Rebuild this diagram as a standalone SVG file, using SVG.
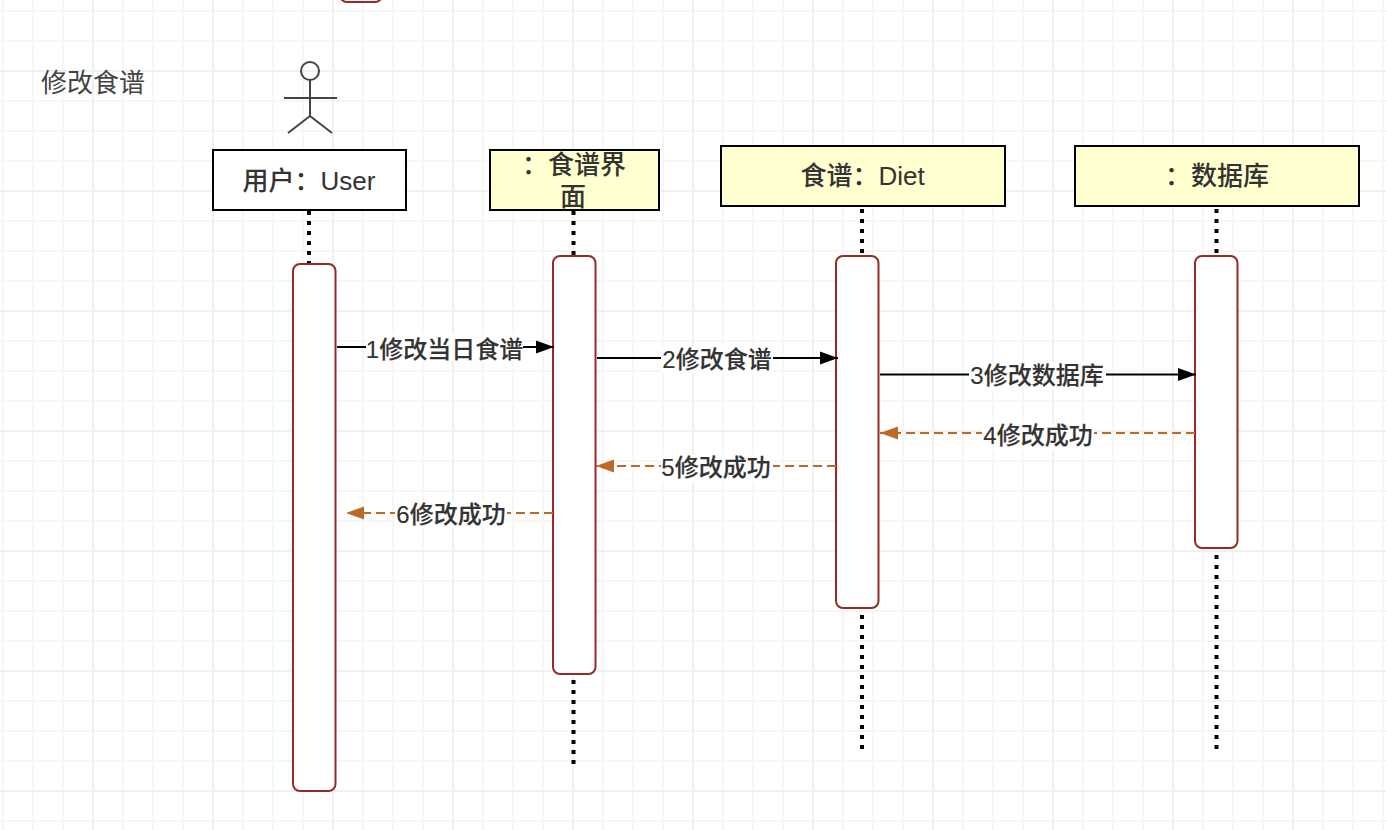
<svg xmlns="http://www.w3.org/2000/svg" width="1386" height="830" viewBox="0 0 1386 830">
<defs>
<path id="gridPath" d="M3 0V830M33 0V830M63 0V830M123 0V830M153 0V830M183 0V830M243 0V830M273 0V830M303 0V830M363 0V830M393 0V830M423 0V830M483 0V830M513 0V830M543 0V830M603 0V830M633 0V830M663 0V830M723 0V830M753 0V830M783 0V830M843 0V830M873 0V830M903 0V830M963 0V830M993 0V830M1023 0V830M1083 0V830M1113 0V830M1143 0V830M1203 0V830M1233 0V830M1263 0V830M1323 0V830M1353 0V830M1383 0V830M0 11H1386M0 41H1386M0 101H1386M0 131H1386M0 161H1386M0 221H1386M0 251H1386M0 281H1386M0 341H1386M0 371H1386M0 401H1386M0 461H1386M0 491H1386M0 521H1386M0 581H1386M0 611H1386M0 641H1386M0 701H1386M0 731H1386M0 761H1386M0 821H1386"/>
<marker id="arrowBlack" markerUnits="userSpaceOnUse" markerWidth="20" markerHeight="16" refX="18" refY="8" orient="auto"><path d="M0 1.500L18 8L0 14.500Z" fill="#000"/></marker>
<marker id="arrowOrange" markerUnits="userSpaceOnUse" markerWidth="20" markerHeight="16" refX="18" refY="8" orient="auto"><path d="M0 1.500L18 8L0 14.500Z" fill="#bd6a26"/></marker>
</defs>
<style>
text{font-family:"Liberation Sans","Noto Sans CJK SC",sans-serif;fill:#333;text-anchor:middle}
.grid{fill:none;stroke:#f6f6f6;stroke-width:2}
.major{fill:none;stroke:#f0f0f0;stroke-width:2}
.life{fill:none;stroke:#000;stroke-width:4;stroke-dasharray:4 6}
.bar{fill:#fff;stroke:#962b25;stroke-width:2}
.head{stroke:#000;stroke-width:2}
.yellow{fill:#ffffcf}
.white{fill:#fff}
.title{font-size:26px;font-weight:500}
.msg{fill:none;stroke:#000;stroke-width:2;marker-end:url(#arrowBlack)}
.ret{fill:none;stroke:#bd6a26;stroke-width:2;stroke-dasharray:9 5;marker-end:url(#arrowOrange)}
.lab{font-size:24px;font-weight:500;stroke:#333;stroke-width:.15}
.labbg{fill:#fff}
.actor{fill:none;stroke:#444;stroke-width:2}
</style>
<rect width="1386" height="830" fill="#fff"/>
<g id="grid">
<use href="#gridPath" class="grid"/>
<path class="major" d="M93 0V830M213 0V830M333 0V830M453 0V830M573 0V830M693 0V830M813 0V830M933 0V830M1053 0V830M1173 0V830M1293 0V830M0 71H1386M0 191H1386M0 311H1386M0 431H1386M0 551H1386M0 671H1386M0 791H1386"/>
</g>
<g id="cut-off-bar"><rect class="bar" x="340" y="-40" width="42" height="42" rx="7"/></g>
<g id="caption"><text x="93" y="92" font-size="26" style="fill:#444">修改食谱</text></g>
<g id="actor">
<circle class="actor" cx="310" cy="71" r="9"/>
<path class="actor" d="M310 80V116M284 98H337M310 116L288 133M310 116L332 133"/>
</g>
<g id="lifelines">
<path class="life" d="M309 211V264"/>
<path class="life" d="M573.500 211V256M573.500 680V764"/>
<path class="life" d="M862 209V256M862 615V750"/>
<path class="life" d="M1216.500 209V256M1216.500 555V750"/>
</g>
<g id="bar-user"><rect class="bar" x="293" y="264" width="42.500" height="527" rx="7"/></g>
<g id="bar-ui"><rect class="bar" x="553" y="256" width="42.500" height="418" rx="7"/></g>
<g id="bar-diet"><rect class="bar" x="836" y="256" width="42.500" height="352" rx="7"/></g>
<g id="bar-db"><rect class="bar" x="1195" y="256" width="42.500" height="292" rx="7"/></g>
<g id="node-user"><rect class="white head" x="213" y="150" width="193" height="60"/><text class="title" x="309" y="190">用户：User</text></g>
<g id="node-ui"><rect class="yellow head" x="490" y="150" width="169" height="60"/><text class="title" x="574" y="174">：食谱界</text><text class="title" x="573" y="206">面</text></g>
<g id="node-diet"><rect class="yellow head" x="721" y="146" width="284" height="60"/><text class="title" x="862.500" y="185">食谱：Diet</text></g>
<g id="node-db"><rect class="yellow head" x="1075" y="146" width="284" height="60"/><text class="title" x="1217" y="185">：数据库</text></g>
<g id="connectors">
<path class="msg" d="M337 347H554"/>
<path class="msg" d="M597 358H838"/>
<path class="msg" d="M880 374.500H1196"/>
<path class="ret" d="M1195 433H880"/>
<path class="ret" d="M836 466H596"/>
<path class="ret" d="M553 513H346"/>
<g id="labels">
<rect class="labbg" x="366" y="334" width="157" height="27"/><text class="lab" x="444.500" y="358">1修改当日食谱</text>
<rect class="labbg" x="661" y="346" width="112" height="27"/><text class="lab" x="717" y="368">2修改食谱</text>
<rect class="labbg" x="969" y="362" width="137" height="27"/><text class="lab" x="1037" y="384">3修改数据库</text>
<rect class="labbg" x="982" y="423" width="112" height="27"/><text class="lab" x="1038" y="444">4修改成功</text>
<rect class="labbg" x="661" y="455" width="112" height="27"/><text class="lab" x="716" y="476">5修改成功</text>
<rect class="labbg" x="395" y="501" width="112" height="27"/><text class="lab" x="451" y="523">6修改成功</text>
</g>
</g>
</svg>
